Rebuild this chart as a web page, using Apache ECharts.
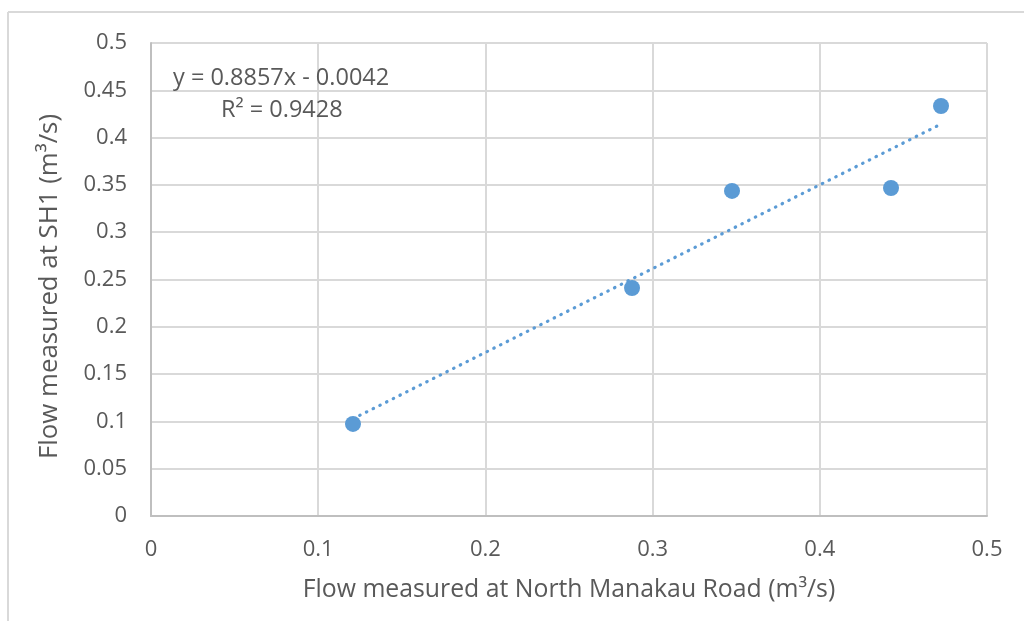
<!DOCTYPE html>
<html>
<head>
<meta charset="utf-8">
<script src="https://cdn.jsdelivr.net/npm/echarts@6/dist/echarts.min.js"></script>
<style>
html,body{margin:0;padding:0;background:#fff;}
#chart{width:1024px;height:621px;}
</style>
</head>
<body>
<div id="chart"></div>
<script>
// Data
const xValues = [0.1208, 0.2877, 0.3475, 0.4426, 0.4725];
const yValues = [0.0973, 0.2410, 0.3436, 0.3467, 0.4334];
const trendSlope = [0.8857];
const trendIntercept = [-0.0042];
const equationLines = ['y = 0.8857x - 0.0042', 'R² = 0.9428'];
const xTitle = 'Flow measured at North Manakau Road (m³/s)';
const yTitle = 'Flow measured at SH1 (m³/s)';

const points = xValues.map((x, i) => [x, yValues[i]]);
const xMin = Math.min(...xValues), xMax = Math.max(...xValues);
const trend = [xMin, xMax].map(x => [x, trendSlope[0] * x + trendIntercept[0]]);

const font = '"Open Sans", sans-serif';
const txt = '#595959';
const chart = echarts.init(document.getElementById('chart'));
chart.setOption({
  animation: false,
  backgroundColor: '#fff',
  grid: {left: 151, right: 37, top: 43, bottom: 105, containLabel: false},
  xAxis: {
    type: 'value', min: 0, max: 0.5, interval: 0.1,
    name: xTitle, nameLocation: 'middle', nameGap: 61,
    nameTextStyle: {color: txt, fontSize: 24.8, fontFamily: font},
    axisLine: {show: true, lineStyle: {color: '#bfbfbf', width: 2}},
    axisTick: {show: false},
    axisLabel: {color: txt, fontSize: 22, fontFamily: font, margin: 23},
    splitLine: {show: true, lineStyle: {color: '#d9d9d9', width: 2}}
  },
  yAxis: {
    type: 'value', min: 0, max: 0.5, interval: 0.05,
    name: yTitle, nameLocation: 'middle', nameGap: 88,
    nameTextStyle: {color: txt, fontSize: 25.8, fontFamily: font, padding: [0, 14, 0, 0]},
    axisLine: {show: true, lineStyle: {color: '#bfbfbf', width: 2}},
    axisTick: {show: false},
    axisLabel: {color: txt, fontSize: 22, fontFamily: font, margin: 24,
      formatter: v => String(parseFloat(v.toFixed(2)))},
    splitLine: {show: true, lineStyle: {color: '#d9d9d9', width: 2}}
  },
  graphic: [
    {type: 'line', shape: {x1: 8, y1: 12, x2: 1024, y2: 12}, style: {stroke: '#d9d9d9', lineWidth: 2}},
    {type: 'line', shape: {x1: 8, y1: 12, x2: 8, y2: 621}, style: {stroke: '#d9d9d9', lineWidth: 2}},
    {type: 'text', x: 173, y: 78, z: 10, style: {text: equationLines[0], fill: txt, fontSize: 23.5, fontFamily: font, verticalAlign: 'middle'}},
    {type: 'text', x: 221, y: 110, z: 10, style: {text: equationLines[1], fill: txt, fontSize: 23.5, fontFamily: font, verticalAlign: 'middle'}}
  ],
  series: [
    {
      type: 'line', data: trend, showSymbol: false, symbol: 'none', z: 3,
      lineStyle: {color: '#5b9bd5', width: 3.2, type: [0.5, 7], cap: 'round', opacity: 1}
    },
    {
      type: 'scatter', data: points, symbol: 'circle', symbolSize: 16, z: 4,
      itemStyle: {color: '#5b9bd5', opacity: 1}
    }
  ]
});
</script>
</body>
</html>
